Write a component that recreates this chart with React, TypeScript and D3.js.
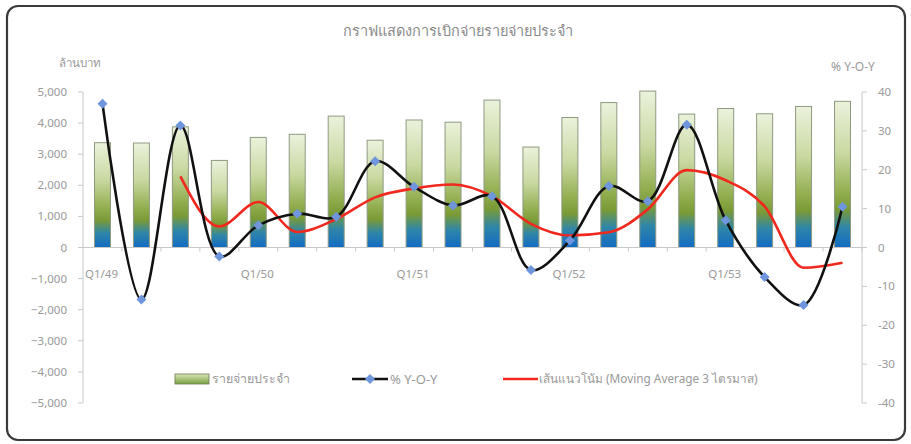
import React from "react";
import * as d3 from "d3";

const categories = [
  "Q1/49","Q2/49","Q3/49","Q4/49",
  "Q1/50","Q2/50","Q3/50","Q4/50",
  "Q1/51","Q2/51","Q3/51","Q4/51",
  "Q1/52","Q2/52","Q3/52","Q4/52",
  "Q1/53","Q2/53","Q3/53","Q4/53",
];
const spending = [3370, 3360, 3880, 2800, 3540, 3640, 4225, 3450, 4100, 4030, 4740, 3230, 4180, 4660, 5030, 4290, 4470, 4300, 4535, 4700];
const yoy = [37.0, -13.4, 31.4, -2.3, 5.7, 8.7, 7.9, 22.2, 15.6, 10.8, 13.2, -5.8, 1.8, 15.8, 11.9, 31.6, 7.0, -7.6, -14.8, 10.5];
const movingAvg: (number | null)[] = [null, null, 18.3, 5.4, 11.7, 4.0, 7.3, 12.9, 15.2, 16.2, 13.2, 6.1, 3.1, 3.9, 9.8, 19.9, 17.3, 10.6, -5.2, -3.9];
const leftTicks = [5000, 4000, 3000, 2000, 1000, 0, -1000, -2000, -3000, -4000, -5000];
const rightTicks = [40, 30, 20, 10, 0, -10, -20, -30, -40];
const xLabelEvery = 4;

const title = "กราฟแสดงการเบิกจ่ายรายจ่ายประจำ";
const leftUnit = "ล้านบาท";
const rightUnit = "% Y-O-Y";
const legendLabels = ["รายจ่ายประจำ", "% Y-O-Y", "เส้นแนวโน้ม (Moving Average 3 ไตรมาส)"];

const W = 911;
const H = 444;
const plotLeft = 83;
const plotRight = 862;
const plotTop = 92;
const plotBottom = 403;
const textColor = "#999999";
const axisColor = "#c8c8c8";
const font = "'Noto Sans', 'DejaVu Sans', sans-serif";

export default function App() {
  const x = d3.scaleBand<string>().domain(categories).range([plotLeft, plotRight]).paddingInner(0.59).paddingOuter(0.295);
  const xc = (c: string) => (x(c) as number) + x.bandwidth() / 2;
  const yL = d3.scaleLinear().domain([-5000, 5000]).range([plotBottom, plotTop]);
  const yR = d3.scaleLinear().domain([-40, 40]).range([plotBottom, plotTop]);
  const step = (plotRight - plotLeft) / categories.length;

  const yoyLine = d3
    .line<number>()
    .x((_, i) => xc(categories[i]))
    .y((d) => yR(d))
    .curve(d3.curveCatmullRom.alpha(0.5));
  const maLine = d3
    .line<number | null>()
    .defined((d) => d !== null)
    .x((_, i) => xc(categories[i]))
    .y((d) => yR(d as number))
    .curve(d3.curveMonotoneX);

  const diamond = (cx: number, cy: number, r: number) =>
    `M${cx},${cy - r}L${cx + r},${cy}L${cx},${cy + r}L${cx - r},${cy}Z`;

  const zeroY = yL(0);
  const legendY = 379;

  return (
    <div style={{ position: "absolute", left: 0, top: 0 }}>
      <svg width={W} height={H} style={{ display: "block", fontFamily: font }}>
        <defs>
          <linearGradient id="barGrad" x1="0" y1="0" x2="0" y2="1">
            <stop offset="0" stopColor="#ebf2dc" />
            <stop offset="0.35" stopColor="#c9d9a2" />
            <stop offset="0.62" stopColor="#93ae50" />
            <stop offset="0.74" stopColor="#7a9a36" />
            <stop offset="0.86" stopColor="#2f86a8" />
            <stop offset="1" stopColor="#126bc4" />
          </linearGradient>
          <linearGradient id="legGrad" x1="0" y1="0" x2="0" y2="1">
            <stop offset="0" stopColor="#d9e6b8" />
            <stop offset="1" stopColor="#78a040" />
          </linearGradient>
        </defs>
        <rect x={0} y={0} width={W} height={H} fill="#ffffff" />
        <rect x={7} y={6} width={898} height={434} rx={11} ry={11} fill="#ffffff" stroke="#3a3a3a" strokeWidth={2.2} />

        <text x={458} y={31} dy="0.35em" textAnchor="middle" fontSize={14.5} fill="#8a8a8a">{title}</text>
        <text x={80} y={63} dy="0.35em" textAnchor="middle" fontSize={11.5} fill={textColor}>{leftUnit}</text>
        <text x={853} y={67} dy="0.35em" textAnchor="middle" fontSize={12} fill={textColor}>{rightUnit}</text>

        {/* left axis */}
        <line x1={plotLeft} x2={plotLeft} y1={plotTop} y2={plotBottom} stroke={axisColor} />
        {leftTicks.map((t) => (
          <g key={"l" + t}>
            <line x1={plotLeft - 5} x2={plotLeft} y1={yL(t)} y2={yL(t)} stroke={axisColor} />
            <text x={67} y={yL(t)} dy="0.35em" textAnchor="end" fontSize={11.5} fill={textColor}>
              {d3.format(",")(t)}
            </text>
          </g>
        ))}
        {/* right axis */}
        <line x1={plotRight} x2={plotRight} y1={plotTop} y2={plotBottom} stroke={axisColor} />
        {rightTicks.map((t) => (
          <g key={"r" + t}>
            <line x1={plotRight} x2={plotRight + 5} y1={yR(t)} y2={yR(t)} stroke={axisColor} />
            <text x={878} y={yR(t)} dy="0.35em" textAnchor="start" fontSize={11.5} fill={textColor}>
              {t}
            </text>
          </g>
        ))}

        {/* bars */}
        {categories.map((c, i) => (
          <rect
            key={"b" + c}
            x={x(c)}
            y={yL(spending[i])}
            width={x.bandwidth()}
            height={zeroY - yL(spending[i])}
            fill="url(#barGrad)"
            stroke="#8e9a80"
            strokeWidth={1}
          />
        ))}

        {/* category axis on zero line */}
        <line x1={plotLeft} x2={plotRight} y1={zeroY} y2={zeroY} stroke={axisColor} />
        {categories.map((c, i) => (
          <line key={"t" + c} x1={plotLeft + step * (i + 1)} x2={plotLeft + step * (i + 1)} y1={zeroY} y2={zeroY + 4} stroke={axisColor} />
        ))}
        {categories.map((c, i) =>
          i % xLabelEvery === 0 ? (
            <text key={"x" + c} x={xc(c) - 1} y={zeroY + 26} dy="0.35em" textAnchor="middle" fontSize={11.5} fill={textColor}>
              {c}
            </text>
          ) : null
        )}

        {/* lines */}
        <path d={maLine(movingAvg) || ""} fill="none" stroke="#f0281e" strokeWidth={2.6} />
        <path d={yoyLine(yoy) || ""} fill="none" stroke="#111111" strokeWidth={2.6} />
        {yoy.map((v, i) => (
          <path key={"m" + i} d={diamond(xc(categories[i]), yR(v), 5)} fill="#6f96dc" />
        ))}

        {/* legend */}
        <rect x={175} y={legendY - 5} width={34} height={10} fill="url(#legGrad)" stroke="#6b7a50" strokeWidth={0.8} />
        <text x={212} y={legendY} dy="0.35em" fontSize={12.5} fill={textColor}>{legendLabels[0]}</text>
        <line x1={352} x2={388} y1={legendY} y2={legendY} stroke="#111111" strokeWidth={2.6} />
        <path d={diamond(370, legendY, 5)} fill="#6f96dc" />
        <text x={390} y={legendY} dy="0.35em" fontSize={13} fill={textColor}>{legendLabels[1]}</text>
        <line x1={503} x2={538} y1={legendY} y2={legendY} stroke="#f0281e" strokeWidth={2.6} />
        <text x={539} y={legendY} dy="0.35em" fontSize={11.8} fill={textColor}>{legendLabels[2]}</text>
      </svg>
    </div>
  );
}
